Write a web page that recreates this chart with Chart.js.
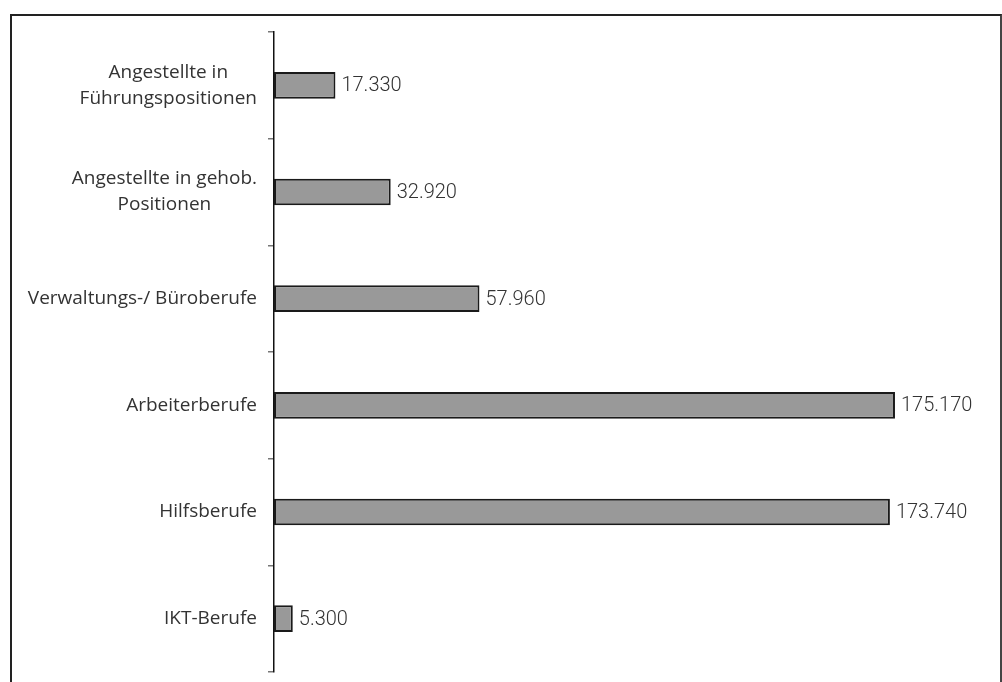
<!DOCTYPE html>
<html lang="de">
<head>
<meta charset="utf-8">
<title>Beschäftigte nach Berufsgruppen</title>
<script src="https://cdn.jsdelivr.net/npm/chart.js@4/dist/chart.umd.min.js"></script>
<style>
  html, body { margin: 0; padding: 0; background: #fff; }
  #wrap { position: relative; width: 1002px; height: 682px; overflow: hidden; }
  #frame {
    position: absolute; left: 10px; top: 14px; width: 988px; height: 700px;
    border: 2px solid #222; border-right-color: #444;
  }
  #chart { position: absolute; left: 0; top: 0; }
</style>
</head>
<body>
<div id="wrap">
  <div id="frame"></div>
  <canvas id="chart" width="1002" height="682"></canvas>
</div>
<script>
  const categories = [
    ['Angestellte in', 'Führungspositionen'],
    ['Angestellte in gehob.', 'Positionen'],
    ['Verwaltungs-/ Büroberufe'],
    ['Arbeiterberufe'],
    ['Hilfsberufe'],
    ['IKT-Berufe']
  ];
  const beschaeftigte = [17330, 32920, 57960, 175170, 173740, 5300];
  const valueLabels = ['17.330', '32.920', '57.960', '175.170', '173.740', '5.300'];

  const LABEL_FONT = '19px "Open Sans", "DejaVu Sans", sans-serif';
  const VALUE_FONT = '300 20px Roboto, "Open Sans", sans-serif';
  const TEXT = '#333';
  const AXIS_X = 274;

  // category names, right side of the block next to the axis, lines centred to each other
  const categoryText = {
    id: 'categoryText',
    afterDraw(chart) {
      const { ctx } = chart;
      const yScale = chart.scales.y;
      ctx.save();
      ctx.font = LABEL_FONT;
      ctx.fillStyle = TEXT;
      ctx.textAlign = 'center';
      ctx.textBaseline = 'middle';
      const lineH = 26;
      categories.forEach((lines, i) => {
        const cy = yScale.getPixelForValue(i);
        const w = Math.max(...lines.map(l => ctx.measureText(l).width));
        const cx = AXIS_X - 17 - w / 2;
        lines.forEach((l, j) => {
          ctx.fillText(l, cx, cy + (j - (lines.length - 1) / 2) * lineH);
        });
      });
      ctx.restore();
    }
  };

  // value text right of each bar
  const barValues = {
    id: 'barValues',
    afterDatasetsDraw(chart) {
      const { ctx } = chart;
      const meta = chart.getDatasetMeta(0);
      ctx.save();
      ctx.font = VALUE_FONT;
      ctx.fillStyle = TEXT;
      ctx.textAlign = 'left';
      ctx.textBaseline = 'middle';
      meta.data.forEach((bar, i) => {
        ctx.fillText(valueLabels[i], bar.x + 6, bar.y + 1);
      });
      ctx.restore();
    }
  };

  new Chart(document.getElementById('chart'), {
    type: 'bar',
    data: {
      labels: categories.map(c => c.join(' ')),
      datasets: [{
        data: beschaeftigte,
        backgroundColor: '#999999',
        borderColor: '#1a1a1a',
        borderWidth: 2,
        borderSkipped: false,
        barPercentage: 0.25,
        categoryPercentage: 1
      }]
    },
    options: {
      indexAxis: 'y',
      responsive: false,
      animation: false,
      layout: { padding: { top: 32, bottom: 10, right: 19, left: 0 } },
      plugins: {
        legend: { display: false },
        tooltip: { enabled: false }
      },
      scales: {
        x: { display: false, min: 0, max: 200000 },
        y: {
          afterFit(scale) { scale.width = AXIS_X; },
          border: { display: true, color: '#111', width: 1.5 },
          grid: {
            offset: true,
            drawOnChartArea: false,
            drawTicks: true,
            tickLength: 6,
            color: '#777',
            lineWidth: 1.5
          },
          ticks: { display: false }
        }
      }
    },
    plugins: [categoryText, barValues]
  });
</script>
</body>
</html>
